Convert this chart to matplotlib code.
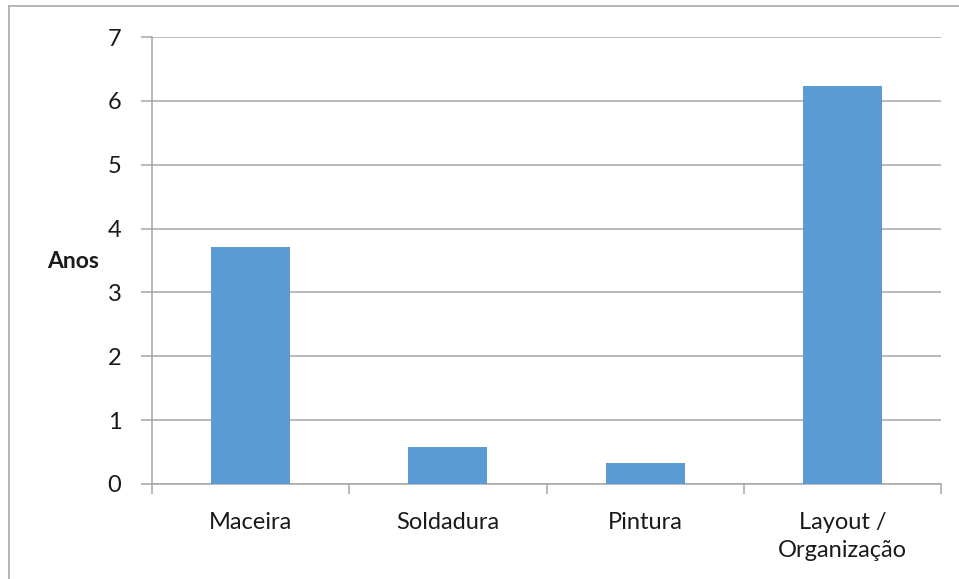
import matplotlib
matplotlib.use("Agg")
import matplotlib.pyplot as plt
from matplotlib.lines import Line2D
import numpy as np

categories = ["Maceira", "Soldadura", "Pintura", "Layout /\nOrganização"]
values = [3.71, 0.58, 0.33, 6.23]
y_ticks = [0, 1, 2, 3, 4, 5, 6, 7]

plt.rcParams['font.family'] = ['Lato', 'DejaVu Sans']

W, H = 959, 579
fig = plt.figure(figsize=(W / 100, H / 100), dpi=100)
fig.patch.set_facecolor("white")

# chart frame (left and top edges)
frame_c = "#b0b0b0"
fig.add_artist(Line2D([9 / W, 9 / W], [0, 1 - 6 / H], transform=fig.transFigure, color=frame_c, lw=1.3))
fig.add_artist(Line2D([9 / W, 1], [1 - 6 / H, 1 - 6 / H], transform=fig.transFigure, color=frame_c, lw=1.3))

left, right, top, bottom = 152, 941, 37, 484
ax = fig.add_axes([left / W, 1 - bottom / H, (right - left) / W, (bottom - top) / H])

x = np.arange(len(categories))
ax.bar(x, values, width=0.40, color="#5b9bd5", zorder=3)

grid_c = "#a6a6a6"
ax.set_xlim(-0.5, len(categories) - 0.5)
ax.set_ylim(0, 7)
ax.set_yticks(y_ticks)
ax.set_yticklabels([str(t) for t in y_ticks], fontsize=17, color="#1a1a1a")
ax.yaxis.grid(True, color=grid_c, lw=1.1, zorder=0)
ax.tick_params(axis="y", length=8, width=1.1, color=grid_c, pad=14)

ax.set_xticks(x)
ax.set_xticklabels(categories, fontsize=17, color="#1a1a1a", linespacing=1.45)
ax.tick_params(axis="x", which="major", length=0, pad=20)
ax.set_xticks(np.arange(-0.5, len(categories)), minor=True)
ax.tick_params(axis="x", which="minor", length=7, width=1.1, color=grid_c)

for s in ["top", "right"]:
    ax.spines[s].set_visible(False)
for s in ["left", "bottom"]:
    ax.spines[s].set_color(grid_c)
    ax.spines[s].set_linewidth(1.1)

fig.text(73 / W, 1 - 262 / H, "Anos", fontsize=16.5, fontweight="bold", ha="center", va="center", color="#1a1a1a")

fig.savefig("out.png", dpi=100)
